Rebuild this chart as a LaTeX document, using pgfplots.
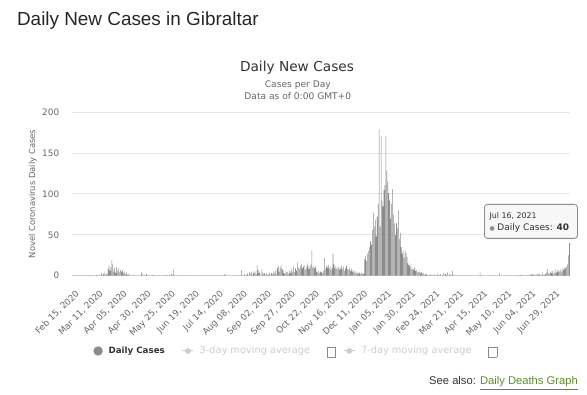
\documentclass[border=0pt]{standalone}
\usepackage{pgfplots}
\pgfplotsset{compat=1.18}
\usepackage{pgfplotstable}
\usepackage{fontspec}
\setmainfont{DejaVu Sans}
\newfontfamily\helv{Liberation Sans}
\usetikzlibrary{shadows}
\definecolor{barcol}{HTML}{8C8C8C}
\definecolor{labelgray}{HTML}{666666}
\definecolor{titlecol}{HTML}{333333}
\definecolor{gridcol}{HTML}{E6E6E6}
\definecolor{axiscol}{HTML}{CCD6EB}
\definecolor{hidcol}{HTML}{CCCCCC}
\definecolor{cbcol}{HTML}{8A8A8A}
\definecolor{linkcol}{HTML}{5C8D2C}
\newcommand\fs[1]{\fontsize{#1}{#1}\selectfont}
\newcommand\cbox{\raisebox{-2.8pt}{\setlength\fboxsep{0pt}\setlength\fboxrule{0.6pt}\fcolorbox{cbcol}{white}{\rule{0pt}{9.3pt}\rule{7.8pt}{0pt}}}}

% daily new cases, Feb 15 2020 (row 0) to Jul 16 2021 (row 517)
\pgfplotstableread[row sep=\\]{
v\\
0\\0\\0\\0\\0\\0\\0\\0\\0\\0\\
0\\0\\0\\0\\0\\0\\0\\1\\0\\0\\
0\\0\\0\\0\\0\\1\\0\\0\\1\\0\\
3\\0\\2\\5\\1\\3\\2\\8\\12\\6\\
10\\19\\14\\5\\9\\3\\11\\6\\9\\4\\
7\\5\\6\\3\\5\\2\\4\\1\\2\\0\\
1\\0\\0\\1\\0\\0\\0\\0\\0\\0\\
0\\0\\4\\2\\0\\1\\0\\2\\0\\0\\
0\\0\\0\\0\\1\\0\\0\\0\\0\\0\\
0\\0\\0\\0\\0\\0\\1\\0\\0\\1\\
0\\1\\0\\2\\0\\7\\1\\0\\0\\0\\
0\\0\\0\\0\\0\\0\\0\\0\\0\\0\\
0\\1\\0\\0\\0\\0\\0\\0\\0\\0\\
0\\0\\0\\0\\0\\0\\0\\0\\0\\0\\
0\\0\\0\\0\\0\\0\\0\\0\\0\\0\\
0\\0\\0\\0\\0\\0\\0\\0\\2\\1\\
0\\0\\0\\0\\0\\0\\0\\0\\0\\0\\
0\\0\\0\\0\\0\\0\\7\\0\\0\\2\\
0\\1\\3\\0\\4\\2\\5\\0\\3\\6\\
4\\2\\13\\7\\3\\5\\0\\8\\4\\2\\
3\\0\\3\\1\\2\\4\\0\\3\\2\\5\\
3\\6\\1\\9\\12\\5\\10\\13\\8\\7\\
3\\2\\6\\4\\5\\2\\6\\3\\8\\5\\
11\\4\\9\\6\\16\\10\\8\\12\\14\\9\\
11\\13\\7\\10\\15\\12\\8\\11\\14\\31\\
10\\12\\9\\11\\5\\4\\6\\3\\5\\4\\
3\\6\\22\\8\\12\\10\\13\\9\\11\\7\\
10\\27\\14\\9\\12\\8\\10\\11\\7\\9\\
12\\8\\11\\6\\9\\12\\8\\7\\9\\6\\
8\\5\\7\\4\\6\\3\\5\\2\\4\\3\\
2\\4\\3\\2\\20\\24\\18\\27\\30\\35\\
42\\38\\56\\77\\60\\68\\48\\72\\88\\179\\
60\\171\\92\\85\\105\\111\\171\\129\\115\\101\\
92\\70\\88\\106\\75\\64\\50\\64\\58\\80\\
45\\52\\35\\27\\31\\22\\31\\28\\23\\15\\
13\\11\\14\\8\\9\\7\\10\\6\\7\\4\\
5\\5\\3\\4\\2\\3\\1\\2\\2\\0\\
1\\0\\2\\1\\0\\1\\0\\2\\0\\1\\
3\\0\\1\\2\\0\\1\\3\\0\\2\\1\\
4\\0\\2\\1\\0\\6\\1\\0\\0\\0\\
0\\0\\0\\0\\0\\0\\0\\0\\0\\0\\
1\\0\\0\\0\\0\\0\\0\\0\\0\\0\\
0\\0\\0\\0\\4\\0\\0\\0\\0\\0\\
0\\0\\0\\0\\0\\0\\0\\0\\0\\0\\
0\\0\\0\\0\\3\\0\\0\\0\\0\\0\\
0\\0\\0\\0\\0\\0\\0\\0\\0\\0\\
0\\0\\0\\0\\1\\0\\1\\0\\1\\0\\
0\\0\\0\\0\\1\\0\\1\\2\\1\\2\\
1\\0\\2\\1\\3\\1\\2\\0\\1\\3\\
1\\1\\2\\4\\8\\3\\2\\5\\3\\6\\
2\\4\\8\\3\\5\\7\\4\\6\\8\\5\\
9\\7\\10\\9\\11\\14\\25\\40\\
}\dailydata

\begin{document}
\begin{tikzpicture}[x=1pt,y=1pt]
\useasboundingbox (0,0) rectangle (587,-395);
\node[anchor=base west, font=\helv\fs{18.9}, text=black!85, inner sep=0] at (16.9,-26) {Daily New Cases in Gibraltar};
\node[anchor=base, font=\fs{13.7}, text=titlecol, inner sep=0] at (297,-71.7) {Daily New Cases};
\node[anchor=base, font=\fs{9.1}, text=labelgray, inner sep=0] at (297.8,-88) {Cases per Day};
\node[anchor=base, font=\fs{9.1}, text=labelgray, inner sep=0] at (297.8,-100) {Data as of 0:00 GMT+0};
\begin{axis}[
  at={(72pt,-275.7pt)}, anchor=south west,
  scale only axis, width=498pt, height=163.4pt,
  xmin=-0.5, xmax=517.5, ymin=0, ymax=200,
  axis x line=bottom, axis y line=left,
  x axis line style={draw=axiscol, line width=1pt, -},
  y axis line style={draw=none},
  xtick={0,25,...,500},
  xticklabels={{Feb 15, 2020},{Mar 11, 2020},{Apr 05, 2020},{Apr 30, 2020},{May 25, 2020},{Jun 19, 2020},{Jul 14, 2020},{Aug 08, 2020},{Sep 02, 2020},{Sep 27, 2020},{Oct 22, 2020},{Nov 16, 2020},{Dec 11, 2020},{Jan 05, 2021},{Jan 30, 2021},{Feb 24, 2021},{Mar 21, 2021},{Apr 15, 2021},{May 10, 2021},{Jun 04, 2021},{Jun 29, 2021}},
  ytick={0,50,100,150,200},
  tick style={draw=none},
  ymajorgrids, major grid style={draw=gridcol, line width=1pt},
  /pgf/number format/assume math mode=true,
  yticklabel style={font=\fs{8.9}, text=labelgray, inner sep=0pt, anchor=east, xshift=-10.5pt},
  xticklabel style={xshift=2.5pt, yshift=-11.3pt, rotate=45, anchor=north east, font=\fs{8.8}, text=labelgray, inner sep=0pt},
  ylabel={Novel Coronavirus Daily Cases},
  ylabel style={at={(axis description cs:-0.0789,0.5)}, anchor=center, font=\fs{8.4}, text=labelgray, inner sep=0pt},
  legend columns=-1, legend cell align=left,
  legend style={at={(axis description cs:0.04297,-0.4608)}, anchor=west, draw=none, fill=none, inner sep=0pt, outer sep=0pt,
    /tikz/every even column/.style={column sep=0pt}, /tikz/column sep=0pt,
    nodes={inner sep=0pt, font=\fs{9.8}, text=hidcol}},
]
\addplot[ybar, bar width=0.6, fill=barcol, draw=none,
  legend image code/.code={\fill[barcol] (0pt,0pt) circle (4.7pt);}]
  table[x expr=\coordindex, y=v] {\dailydata};
\addlegendentry{\hspace{5.8pt}\textcolor{titlecol}{\bfseries\fs{8.7}Daily Cases}\hspace{16.9pt}\mbox{}}
\addlegendimage{legend image code/.code={\draw[hidcol, line width=1pt] (0pt,0pt)--(11.2pt,0pt); \fill[hidcol] (5.6pt,0pt) circle (2.6pt);}}
\addlegendentry{\hspace{5.6pt}3-day moving average\hspace{16.5pt}\cbox\hspace{7.5pt}\mbox{}}
\addlegendimage{legend image code/.code={\draw[hidcol, line width=1pt] (0pt,0pt)--(11.2pt,0pt); \fill[hidcol] (5.6pt,0pt) circle (2.6pt);}}
\addlegendentry{\hspace{5.6pt}7-day moving average\hspace{16.8pt}\cbox}
\end{axis}
% tooltip
\node[draw=barcol, fill=white!97!black, rounded corners=3pt, line width=0.8pt, minimum width=93pt, minimum height=34pt, anchor=north west, inner sep=0pt,
  drop shadow={opacity=0.15, shadow xshift=1pt, shadow yshift=-1pt}] at (484,-204) {};
\node[anchor=west, inner sep=0pt, font=\fs{7.9}, text=titlecol] at (489.3,-216.7) {Jul 16, 2021};
\node[anchor=west, inner sep=0pt, font=\fs{9}, text=titlecol] at (489.5,-227.7) {\textcolor{barcol}{\fs{6}●}\hspace{2.5pt}Daily Cases: \textbf{40}};
% see also
\node[anchor=base east, inner sep=0pt, font=\helv\fs{11.2}] at (578,-385) {\textcolor{titlecol}{See also: }\textcolor{linkcol}{\underline{Daily Deaths Graph}}};
\end{tikzpicture}
\end{document}
